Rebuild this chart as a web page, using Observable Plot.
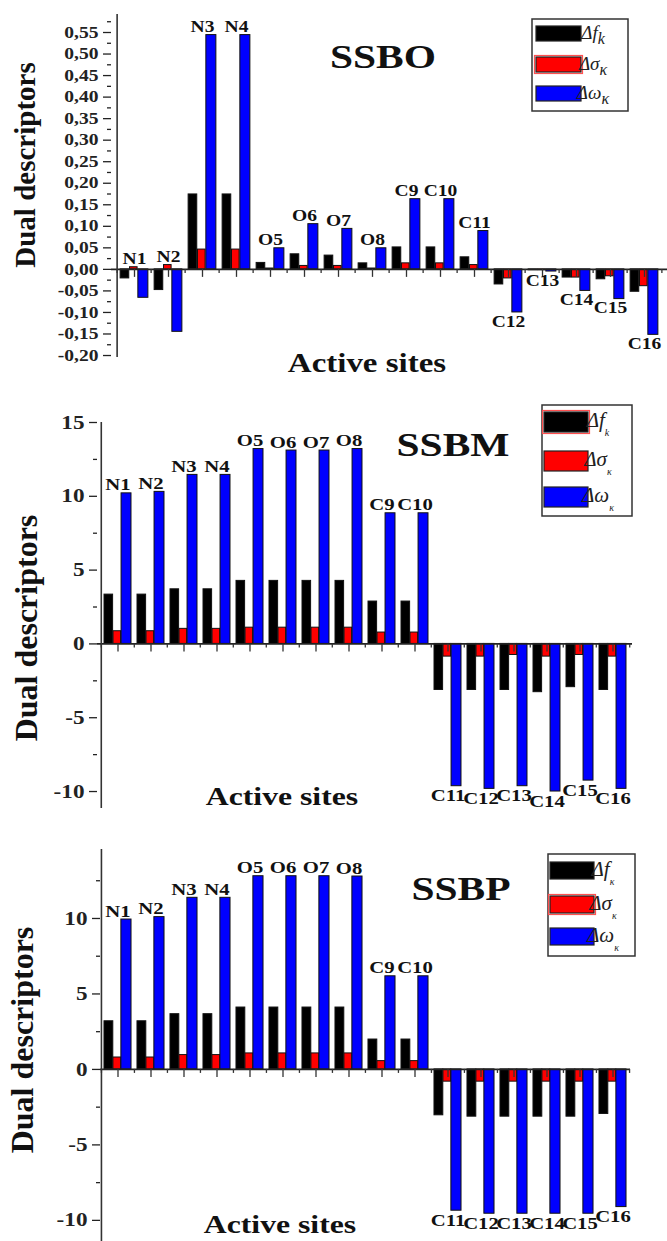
<!DOCTYPE html>
<html><head><meta charset="utf-8">
<script src="https://cdn.jsdelivr.net/npm/d3@7"></script>
<script src="https://cdn.jsdelivr.net/npm/@observablehq/plot@0.6"></script>
<style>
html,body{margin:0;padding:0;background:#fff;}
#wrap{position:relative;width:667px;height:1241px;overflow:hidden;background:#fff;}
#wrap svg{position:absolute;left:0;}
</style></head><body><div id="wrap"></div>
<script>
const sites = ["N1","N2","N3","N4","O5","O6","O7","O8","C9","C10","C11","C12","C13","C14","C15","C16"];

const ssboF     = [-0.021,-0.048,0.174,0.174,0.015,0.035,0.032,0.014,0.051,0.051,0.028,-0.035,-0.002,-0.019,-0.023,-0.052];
const ssboSigma = [0.005,0.010,0.046,0.046,0.002,0.008,0.008,0.002,0.014,0.014,0.010,-0.021,-0.002,-0.019,-0.016,-0.039];
const ssboOmega = [-0.066,-0.145,0.544,0.544,0.049,0.105,0.094,0.049,0.163,0.163,0.089,-0.100,-0.005,-0.050,-0.069,-0.152];

const ssbmF     = [3.34,3.34,3.70,3.70,4.27,4.27,4.27,4.27,2.87,2.87,-3.12,-3.12,-3.12,-3.27,-2.93,-3.12];
const ssbmSigma = [0.86,0.86,1.02,1.02,1.10,1.10,1.10,1.10,0.77,0.77,-0.86,-0.86,-0.75,-0.86,-0.75,-0.86];
const ssbmOmega = [10.2,10.3,11.45,11.45,13.2,13.1,13.1,13.2,8.85,8.85,-9.64,-9.82,-9.64,-10.0,-9.26,-9.82];

const ssbpF     = [3.19,3.19,3.66,3.66,4.10,4.10,4.10,4.10,1.98,1.98,-3.04,-3.13,-3.13,-3.13,-3.13,-2.95];
const ssbpSigma = [0.79,0.79,0.95,0.95,1.06,1.06,1.06,1.06,0.55,0.55,-0.81,-0.81,-0.81,-0.81,-0.81,-0.81];
const ssbpOmega = [9.93,10.09,11.37,11.37,12.8,12.8,12.8,12.78,6.17,6.17,-9.36,-9.56,-9.56,-9.56,-9.56,-9.12];

const ssboTicks = [-0.2,-0.15,-0.1,-0.05,0,0.05,0.1,0.15,0.2,0.25,0.3,0.35,0.4,0.45,0.5,0.55];
const ssboMinor = [-0.175,-0.125,-0.075,-0.025,0.025,0.075,0.125,0.175,0.225,0.275,0.325,0.375,0.425,0.475,0.525,0.575];
const ssbmTicks = [-10,-5,0,5,10,15];
const ssbmMinor = [-7.5,-2.5,2.5,7.5,12.5];
const ssbpTicks = [-10,-5,0,5,10];
const ssbpMinor = [-7.5,-2.5,2.5,7.5,12.5];

const titles = ["SSBO","SSBM","SSBP"];
const yLabel = "Dual descriptors";
const xLabel = "Active sites";
const legendA = [["Δ","f","k"],["Δ","σ","κ"],["Δ","ω","κ"]];
const legendB = [["Δ","f","k"],["Δ","σ","κ"],["Δ","ω","κ"]];
const legendC = [["Δ","f","κ"],["Δ","σ","κ"],["Δ","ω","κ"]];
const colors = ["#000000","#ff0000","#0000ff"];

const FONT = "'Liberation Serif','Times New Roman',serif";
const LFONT = "'Liberation Serif','DejaVu Serif',serif";
const STRETCH = 1.22;
const wrap = document.getElementById("wrap");

function panel(c) {
  const n = sites.length;
  const bw = (c.right - c.left) / n;
  const unit = (c.yDomain[1] - c.yDomain[0]) / (c.yRange[0] - c.yRange[1]);
  const data = arr => sites.map((site, i) => ({site, value: arr[i]}));
  const labels = sites.map((site, i) => {
    const v = [c.f[i], c.s[i], c.w[i]];
    const mx = Math.max(...v), mn = Math.min(...v);
    return mx > 0 ? {site, y: mx, above: true} : {site, y: mn, above: false};
  });
  const barOpts = {x: "site", y: "value", stroke: "#111", strokeWidth: 1};
  const plot = Plot.plot({
    width: 667, height: c.height,
    marginLeft: c.left, marginRight: 667 - c.right, marginTop: 0, marginBottom: 0,
    x: {type: "band", domain: sites, padding: 0, axis: null},
    y: {domain: c.yDomain, range: c.yRange},
    style: {fontFamily: FONT, fontWeight: "bold", background: "transparent", overflow: "visible", color: "#111"},
    marks: [
      Plot.barY(data(c.f), {...barOpts, fill: colors[0], insetLeft: 0.09 * bw, insetRight: 0.64 * bw}),
      Plot.barY(data(c.s), {...barOpts, fill: colors[1], insetLeft: 0.36 * bw, insetRight: 0.40 * bw}),
      Plot.barY(data(c.w), {...barOpts, fill: colors[2], insetLeft: 0.60 * bw, insetRight: 0.09 * bw}),
      Plot.ruleY([0], {stroke: "#222", strokeWidth: 1.6}),
      Plot.ruleX(sites, {x: d => d, y1: 0, y2: -8 * unit, stroke: "#333", strokeWidth: 1.3}),
      Plot.ruleX(sites, {x: d => d, y1: 0, y2: -4 * unit, dx: -bw / 2, stroke: "#333", strokeWidth: 1.3}),
      Plot.ruleX([sites[n - 1]], {x: d => d, y1: 0, y2: -4 * unit, dx: bw / 2, stroke: "#333", strokeWidth: 1.3}),
      Plot.ruleX([sites[0]], {x: d => d, y1: c.yDomain[0], y2: c.yDomain[1], dx: -bw / 2, stroke: "#333", strokeWidth: 1.6}),
      Plot.axisY({ticks: c.ticks, tickSize: 8, tickPadding: 5, tickFormat: c.fmt, fontSize: c.tickFont, fontWeight: "bold", label: null, color: "#222", strokeWidth: 1.3}),
      Plot.axisY({ticks: c.minor, tickSize: 4, tickFormat: () => "", label: null, color: "#222", strokeWidth: 1.3}),
      Plot.text(labels.filter(d => d.above), {x: "site", y: "y", text: "site", lineAnchor: "bottom", dy: -3, fontSize: c.labelFont, fontWeight: "bold", fill: "#111"}),
      Plot.text(labels.filter(d => !d.above), {x: "site", y: "y", text: "site", lineAnchor: "top", dy: 3, fontSize: c.labelFont, fontWeight: "bold", fill: "#111"})
    ]
  });
  plot.style.top = c.top + "px";
  wrap.appendChild(plot);
  const svg = d3.select(plot);

  svg.append("text").attr("x", c.titleX).attr("y", c.titleY).attr("text-anchor", "middle")
    .attr("font-size", 34).attr("font-weight", "bold").attr("font-family", FONT).attr("fill", "#111").text(c.title);
  svg.append("text").attr("x", c.xlX).attr("y", c.xlY).attr("text-anchor", "middle")
    .attr("font-size", c.xlFont).attr("font-weight", "bold").attr("font-family", FONT).attr("fill", "#111").text(xLabel);
  svg.append("text").attr("class", "nostretch").attr("transform", `translate(${c.ylX},${c.ylY}) rotate(-90)`)
    .attr("text-anchor", "middle").attr("font-size", c.ylFont).attr("font-weight", "bold")
    .attr("font-family", FONT).attr("fill", "#111").text(yLabel);

  const L = c.legend;
  const g = svg.append("g");
  g.append("rect").attr("x", L.x).attr("y", L.y).attr("width", L.w).attr("height", L.h)
    .attr("fill", "#fff").attr("stroke", "#333").attr("stroke-width", 1.5);
  L.items.forEach((it, i) => {
    const sy = L.sy[i];
    if (L.outline === i) {
      g.append("rect").attr("x", L.sx - 1.5).attr("y", sy - 1.5).attr("width", L.sw + 3).attr("height", L.sh + 3)
        .attr("fill", "none").attr("stroke", "#ff5050").attr("stroke-width", 1.2);
    }
    g.append("rect").attr("x", L.sx).attr("y", sy).attr("width", L.sw).attr("height", L.sh)
      .attr("fill", colors[i]).attr("stroke", "#222").attr("stroke-width", 1.2);
    const t = g.append("text").attr("class", "nostretch").attr("x", L.tx).attr("y", sy + L.sh / 2 + L.base)
      .attr("font-family", LFONT).attr("font-weight", "normal").attr("fill", "#222")
      .attr("font-size", L.font);
    t.append("tspan").attr("font-style", "italic").text(it[0]);
    t.append("tspan").attr("font-style", "italic").text(it[1]);
    t.append("tspan").attr("font-style", "italic").attr("dy", L.subDy).attr("font-size", L.subFont).text(it[2]);
  });

  plot.querySelectorAll("text").forEach(t => {
    if (t.classList.contains("nostretch")) return;
    const len = t.getComputedTextLength();
    if (len > 0) {
      t.setAttribute("textLength", len * STRETCH);
      t.setAttribute("lengthAdjust", "spacingAndGlyphs");
    }
  });
}

const fmtA = d => d.toFixed(2).replace(".", ",");
const fmtI = d => String(d);

panel({
  top: 0, height: 400, left: 111, right: 667,
  yDomain: [-0.2046, 0.5918], yRange: [357, 14],
  f: ssboF, s: ssboSigma, w: ssboOmega,
  ticks: ssboTicks, minor: ssboMinor, fmt: fmtA, tickFont: 16, labelFont: 16,
  title: titles[0], titleX: 383, titleY: 68,
  xlX: 367, xlY: 372, xlFont: 27,
  ylX: 35, ylY: 165, ylFont: 29,
  legend: {x: 532, y: 19, w: 96, h: 92, sx: 536, sw: 45, sh: 15, sy: [26, 57, 86], tx: 593,
           font: 19, subFont: 16, subDy: 5, base: 5, items: legendA, outline: 1}
});

panel({
  top: 400, height: 430, left: 97, right: 632,
  yDomain: [-11.15, 15], yRange: [408, 22],
  f: ssbmF, s: ssbmSigma, w: ssbmOmega,
  ticks: ssbmTicks, minor: ssbmMinor, fmt: fmtI, tickFont: 19, labelFont: 17,
  title: titles[1], titleX: 453, titleY: 56,
  xlX: 282, xlY: 405, xlFont: 26,
  ylX: 37, ylY: 228, ylFont: 32,
  legend: {x: 542, y: 5, w: 90, h: 111, sx: 544, sw: 44, sh: 20, sy: [12, 51, 87], tx: 598,
           font: 21, subFont: 10, subDy: 9, base: 5, items: legendB, outline: 0}
});

panel({
  top: 830, height: 411, left: 100, right: 630,
  yDomain: [-11.4, 14.57], yRange: [411, 19],
  f: ssbpF, s: ssbpSigma, w: ssbpOmega,
  ticks: ssbpTicks, minor: ssbpMinor, fmt: fmtI, tickFont: 19, labelFont: 17,
  title: titles[2], titleX: 461, titleY: 70,
  xlX: 280, xlY: 403, xlFont: 26,
  ylX: 33, ylY: 210, ylFont: 32,
  legend: {x: 548, y: 24, w: 87, h: 102, sx: 550, sw: 44, sh: 17, sy: [32, 66, 98], tx: 603,
           font: 21, subFont: 10, subDy: 9, base: 5, items: legendC, outline: 1}
});
</script>
</body></html>
